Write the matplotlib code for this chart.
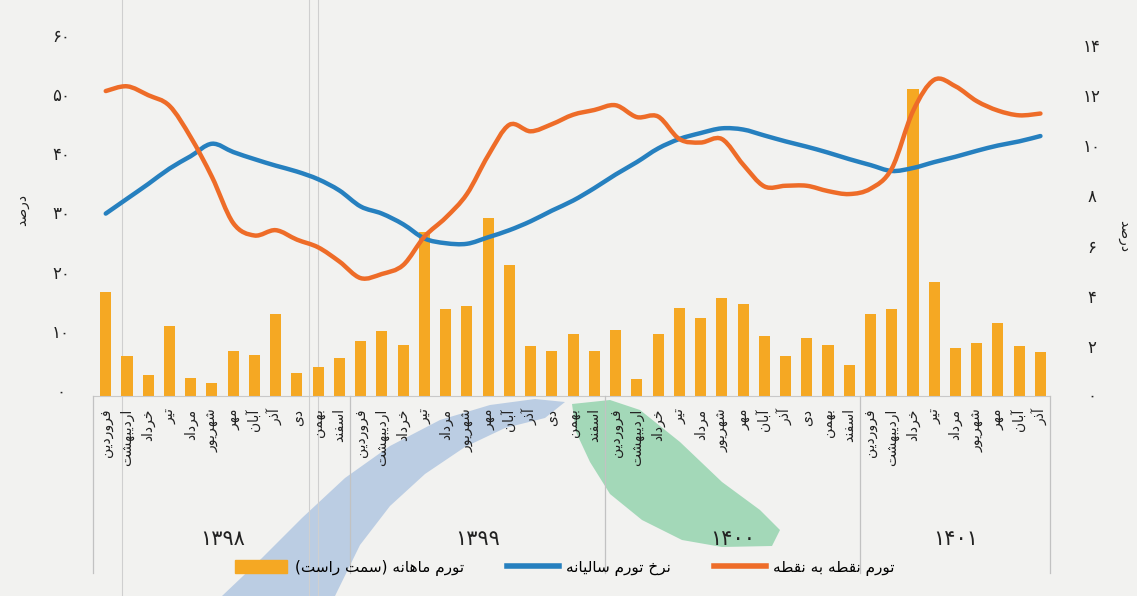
import numpy as np
import matplotlib.pyplot as plt
from matplotlib.patches import Patch, PathPatch, Polygon
from matplotlib.lines import Line2D
from matplotlib.path import Path
from matplotlib.transforms import blended_transform_factory

# ---- data ----
months = ['فروردین', 'اردیبهشت', 'خرداد', 'تیر', 'مرداد', 'شهریور',
          'مهر', 'آبان', 'آذر', 'دی', 'بهمن', 'اسفند']
years = ['1398', '1399', '1400', '1401']
months_per_year = [12, 12, 12, 9]

monthly = [4.15, 1.58, 0.84, 2.81, 0.71, 0.53, 1.79, 1.65, 3.26, 0.93, 1.15, 1.53,
           2.18, 2.60, 2.02, 6.55, 3.49, 3.59, 7.12, 5.23, 1.98, 1.79, 2.49, 1.79,
           2.65, 0.68, 2.49, 3.51, 3.13, 3.90, 3.68, 2.39, 1.61, 2.31, 2.05, 1.22,
           3.28, 3.46, 12.25, 4.53, 1.92, 2.10, 2.92, 1.98, 1.76]
annual = [29.8, 32.3, 34.8, 37.4, 39.5, 41.6, 40.2, 39.0, 37.9, 36.9, 35.6, 33.7,
          31.0, 29.8, 28.0, 25.6, 24.8, 24.7, 25.8, 27.0, 28.5, 30.3, 32.0, 34.1,
          36.4, 38.5, 40.8, 42.4, 43.4, 44.2, 44.0, 43.0, 42.0, 41.1, 40.1, 39.0,
          38.0, 37.0, 37.5, 38.5, 39.4, 40.4, 41.3, 42.0, 42.9]
p2p = [50.5, 51.3, 49.8, 48.0, 42.7, 36.0, 28.2, 26.1, 27.0, 25.4, 24.1, 21.7,
       18.9, 19.6, 21.1, 25.9, 29.1, 33.1, 39.6, 44.8, 43.7, 44.9, 46.5, 47.3,
       48.1, 46.1, 46.2, 42.4, 41.8, 42.4, 38.1, 34.4, 34.5, 34.5, 33.6, 33.1,
       34.0, 37.4, 47.1, 52.4, 51.3, 48.8, 47.2, 46.4, 46.7]

left_ticks = [0, 10, 20, 30, 40, 50, 60]
right_ticks = [0, 2, 4, 6, 8, 10, 12, 14]

# ---- minimal persian shaping (no bidi lib available) ----
FORMS = {
    'ا': ('\uFE8D', '\uFE8E', None, None), 'آ': ('\uFE81', '\uFE82', None, None),
    'ب': ('\uFE8F', '\uFE90', '\uFE91', '\uFE92'), 'پ': ('\uFB56', '\uFB57', '\uFB58', '\uFB59'),
    'ت': ('\uFE95', '\uFE96', '\uFE97', '\uFE98'), 'ث': ('\uFE99', '\uFE9A', '\uFE9B', '\uFE9C'),
    'ج': ('\uFE9D', '\uFE9E', '\uFE9F', '\uFEA0'), 'چ': ('\uFB7A', '\uFB7B', '\uFB7C', '\uFB7D'),
    'ح': ('\uFEA1', '\uFEA2', '\uFEA3', '\uFEA4'), 'خ': ('\uFEA5', '\uFEA6', '\uFEA7', '\uFEA8'),
    'د': ('\uFEA9', '\uFEAA', None, None), 'ذ': ('\uFEAB', '\uFEAC', None, None),
    'ر': ('\uFEAD', '\uFEAE', None, None), 'ز': ('\uFEAF', '\uFEB0', None, None),
    'ژ': ('\uFB8A', '\uFB8B', None, None),
    'س': ('\uFEB1', '\uFEB2', '\uFEB3', '\uFEB4'), 'ش': ('\uFEB5', '\uFEB6', '\uFEB7', '\uFEB8'),
    'ص': ('\uFEB9', '\uFEBA', '\uFEBB', '\uFEBC'), 'ض': ('\uFEBD', '\uFEBE', '\uFEBF', '\uFEC0'),
    'ط': ('\uFEC1', '\uFEC2', '\uFEC3', '\uFEC4'), 'ظ': ('\uFEC5', '\uFEC6', '\uFEC7', '\uFEC8'),
    'ع': ('\uFEC9', '\uFECA', '\uFECB', '\uFECC'), 'غ': ('\uFECD', '\uFECE', '\uFECF', '\uFED0'),
    'ف': ('\uFED1', '\uFED2', '\uFED3', '\uFED4'), 'ق': ('\uFED5', '\uFED6', '\uFED7', '\uFED8'),
    'ک': ('\uFB8E', '\uFB8F', '\uFB90', '\uFB91'), 'گ': ('\uFB92', '\uFB93', '\uFB94', '\uFB95'),
    'ل': ('\uFEDD', '\uFEDE', '\uFEDF', '\uFEE0'), 'م': ('\uFEE1', '\uFEE2', '\uFEE3', '\uFEE4'),
    'ن': ('\uFEE5', '\uFEE6', '\uFEE7', '\uFEE8'), 'و': ('\uFEED', '\uFEEE', None, None),
    'ه': ('\uFEE9', '\uFEEA', '\uFEEB', '\uFEEC'), 'ی': ('\uFBFC', '\uFBFD', '\uFBFE', '\uFBFF'),
}


def fa(s):
    out = []
    for k, ch in enumerate(s):
        f = FORMS.get(ch)
        if f is None:
            out.append(ch)
            continue
        prev = s[k - 1] if k > 0 else ''
        nxt = s[k + 1] if k < len(s) - 1 else ''
        jp = prev in FORMS and FORMS[prev][2] is not None
        jn = f[2] is not None and nxt in FORMS
        out.append(f[3] if jp and jn else f[1] if jp else f[2] if jn else f[0])
    return ''.join(out)[::-1].translate(str.maketrans('()', ')('))


def fa_num(v):
    return str(v).translate(str.maketrans('0123456789', '۰۱۲۳۴۵۶۷۸۹'))


def smooth(xs, ys):
    # catmull-rom through the data points, drawn as bezier segments
    pts = np.column_stack([xs, ys]).astype(float)
    p = np.vstack([pts[0], pts, pts[-1]])
    verts, codes = [pts[0]], [Path.MOVETO]
    for i in range(1, len(p) - 2):
        p0, p1, p2, p3 = p[i - 1], p[i], p[i + 1], p[i + 2]
        verts += [p1 + (p2 - p0) / 6, p2 - (p3 - p1) / 6, p2]
        codes += [Path.CURVE4] * 3
    return Path(verts, codes)


plt.rcParams['font.family'] = ['DejaVu Sans']
bg = '#f2f2f0'
c_bar = '#f5a823'
c_blue = '#2680bf'
c_orange = '#ee6c28'
txt = '#222222'

fig = plt.figure(figsize=(11.37, 5.96), dpi=100, facecolor=bg)
W, H = 1137, 596


def px(pts):
    return [(a / W, 1 - b / H) for a, b in pts]


# page decoration behind the chart
fig.patches.append(Polygon(px([(222, 596), (262, 558), (302, 518), (345, 478), (390, 446),
                               (440, 420), (490, 405), (535, 399), (565, 402), (545, 418),
                               (505, 428), (465, 447), (425, 474), (390, 506), (360, 545),
                               (335, 596)]),
                           closed=True, transform=fig.transFigure, facecolor='#a9c1df',
                           edgecolor='none', alpha=0.75, zorder=-5))
fig.patches.append(Polygon(px([(572, 404), (610, 400), (640, 410), (680, 442), (722, 482),
                               (760, 510), (780, 530), (772, 546), (722, 547), (682, 540),
                               (642, 520), (610, 494), (590, 462), (576, 432)]),
                           closed=True, transform=fig.transFigure, facecolor='#8fd2ab',
                           edgecolor='none', alpha=0.8, zorder=-5))
for fx in (122, 309, 318):
    fig.add_artist(Line2D([fx / W, fx / W], [0, 1], color='#cfcfcf', lw=0.8, zorder=-4))

ax2 = fig.add_axes([93 / W, 1 - 396 / H, (1050 - 93) / W, 376 / H])
ax = ax2.twinx()  # lines drawn on top of bars
ax.yaxis.tick_left()
ax2.yaxis.tick_right()
for a in (ax, ax2):
    a.set_facecolor('none')
    for s in a.spines.values():
        s.set_visible(False)

x = np.arange(len(monthly))
month_labels = [months[i % 12] for i in range(len(monthly))]

ax2.bar(x, monthly, width=0.52, color=c_bar, zorder=2)
ax2.set_ylim(0, 15.0)
ax2.set_xlim(-0.6, 44.45)
ax2.set_yticks(right_ticks[1:])
ax2.set_yticklabels([fa_num(t) for t in right_ticks[1:]], fontsize=12, color=txt)
ax2.tick_params(axis='y', length=0, pad=30)
for lbl in ax2.get_yticklabels():
    lbl.set_ha('center')
ax2.text(1.0 + 42 / 957, 0, fa_num(0), transform=blended_transform_factory(ax2.transAxes, ax2.transData),
         fontsize=12, ha='center', va='center', color=txt, clip_on=False)

ax2.set_xticks(x)
ax2.set_xticklabels([fa(m) for m in month_labels], rotation=90, fontsize=10, color=txt)
ax2.tick_params(axis='x', length=0, pad=9)

ax.add_patch(PathPatch(smooth(x, annual), fill=False, edgecolor=c_blue, lw=3.2, capstyle='round'))
ax.add_patch(PathPatch(smooth(x, p2p), fill=False, edgecolor=c_orange, lw=3.2, capstyle='round'))
ax.set_xlim(-0.6, 44.45)
ax.set_ylim(-1.01, 62.5)
ax.set_yticks(left_ticks)
ax.set_yticklabels([fa_num(t) for t in left_ticks], fontsize=12, color=txt)
ax.tick_params(axis='y', length=0, pad=23)
for lbl in ax.get_yticklabels():
    lbl.set_ha('center')

# label box under the bars
tb = blended_transform_factory(ax2.transData, ax2.transAxes)
ax2.plot([-0.6, 44.45], [0, 0], color='#c9c9c9', lw=0.8, transform=tb, clip_on=False)
edges = [-0.6]
start = 0
for n in months_per_year:
    start += n
    edges.append(start - 0.5)
edges[-1] = 44.45
for e in edges:
    ax2.plot([e, e], [0, -0.47], color='#c2c2c2', lw=0.9, transform=tb, clip_on=False)
start = 0
for yr, n in zip(years, months_per_year):
    ax2.text(start + (n - 1) / 2, -0.38, fa_num(yr), transform=tb, ha='center', va='center',
             fontsize=15, color=txt)
    start += n

fig.text(22 / W, 1 - 210 / H, fa('درصد'), rotation=90, ha='center', va='center', fontsize=10, color=txt)
fig.text(1124 / W, 1 - 236 / H, fa('درصد'), rotation=-90, ha='center', va='center', fontsize=10, color=txt)

handles = [Patch(color=c_bar), Line2D([], [], color=c_blue, lw=4),
           Line2D([], [], color=c_orange, lw=4)]
labels = [fa('تورم ماهانه (سمت راست)'), fa('نرخ تورم سالیانه'), fa('تورم نقطه به نقطه')]
fig.legend(handles, labels, ncol=3, loc='center', bbox_to_anchor=(565 / W, 1 - 568 / H),
           frameon=False, fontsize=11, handlelength=3.4, handleheight=0.9,
           columnspacing=2.8, handletextpad=0.5)

fig.savefig('out.png', dpi=100, facecolor=bg)
